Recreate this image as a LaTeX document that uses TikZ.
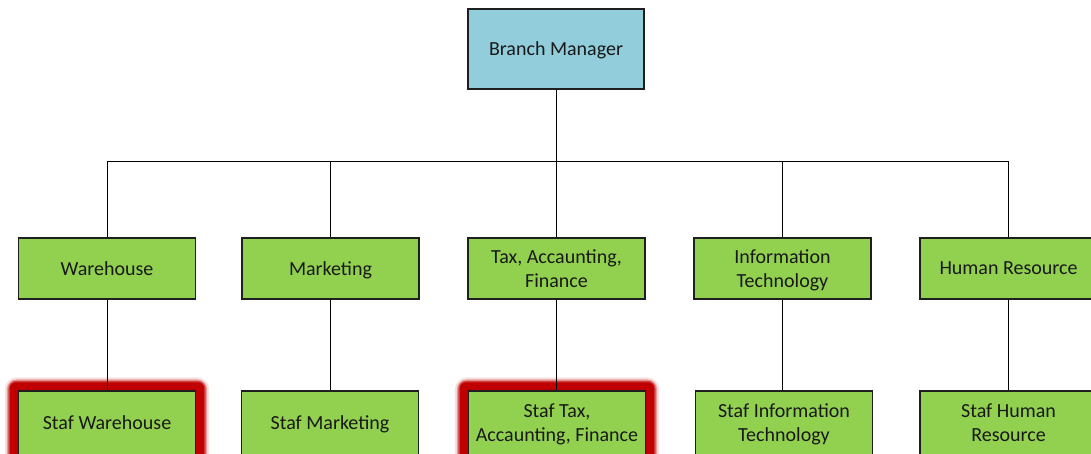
\documentclass[tikz,border=0pt]{standalone}
\usepackage{fontspec}
\setmainfont{Carlito}
\usetikzlibrary{backgrounds}
\definecolor{bmblue}{HTML}{92CDDC}
\definecolor{lgreen}{HTML}{92D050}
\definecolor{glowred}{HTML}{C00000}
\definecolor{edge}{HTML}{1F1F1F}
\tikzset{
  box/.style={draw=edge, line width=1.3pt, fill=lgreen, minimum width=177pt, minimum height=61pt,
    align=center, inner sep=2pt, text depth=0pt, font=\fontsize{20}{24}\selectfont, text=black!90},
  topbox/.style={box, fill=bmblue, minimum width=176pt, minimum height=80pt},
  stafbox/.style={box, minimum height=64pt},
  link/.style={draw=black, line width=1pt}
}
\begin{document}
\begin{tikzpicture}[x=1pt,y=-1pt]
\useasboundingbox (0,0) rectangle (1091,454);
\node[topbox] (bm) at (556,49) {Branch Manager};
\node[box] (wh) at (107,268.5) {Warehouse};
\node[box] (mk) at (330.5,268.5) {Marketing};
\node[box] (tx) at (556.5,268.5) {Tax, Accaunting,\\Finance};
\node[box] (it) at (782.5,268.5) {Information\\Technology};
\node[box] (hr) at (1008.5,268.5) {Human Resource};
\node[stafbox] (swh) at (107,423) {Staf Warehouse};
\node[stafbox] (smk) at (330,423) {Staf Marketing};
\node[stafbox] (stx) at (557,423) {Staf Tax,\\Accaunting, Finance};
\node[stafbox] (sit) at (784,423) {Staf Information\\Technology};
\node[stafbox] (shr) at (1008.5,423) {Staf Human\\Resource};
\coordinate (bus) at (0,162);
\begin{scope}[on background layer]
\foreach \n in {swh,stx} {
  \fill[glowred!12, rounded corners=12pt] ([xshift=-13pt,yshift=13pt]\n.north west) rectangle ([xshift=13pt,yshift=-13pt]\n.south east);
  \fill[glowred!40, rounded corners=10pt] ([xshift=-11pt,yshift=11pt]\n.north west) rectangle ([xshift=11pt,yshift=-11pt]\n.south east);
  \fill[glowred!75, rounded corners=8pt] ([xshift=-9.5pt,yshift=9.5pt]\n.north west) rectangle ([xshift=9.5pt,yshift=-9.5pt]\n.south east);
  \fill[glowred, rounded corners=6pt] ([xshift=-8pt,yshift=8pt]\n.north west) rectangle ([xshift=8pt,yshift=-8pt]\n.south east);
}
\draw[link] (bm.south) -- (bm.south |- bus) -| (wh.north);
\draw[link] (bm.south |- bus) -| (mk.north);
\draw[link] (bm.south |- bus) -| (tx.north);
\draw[link] (bm.south |- bus) -| (it.north);
\draw[link] (bm.south |- bus) -| (hr.north);
\draw[link] (wh.south) -- (wh.south |- swh.north);
\draw[link] (mk.south) -- (mk.south |- smk.north);
\draw[link] (tx.south) -- (tx.south |- stx.north);
\draw[link] (it.south) -- (it.south |- sit.north);
\draw[link] (hr.south) -- (hr.south |- shr.north);
\end{scope}
\end{tikzpicture}
\end{document}
